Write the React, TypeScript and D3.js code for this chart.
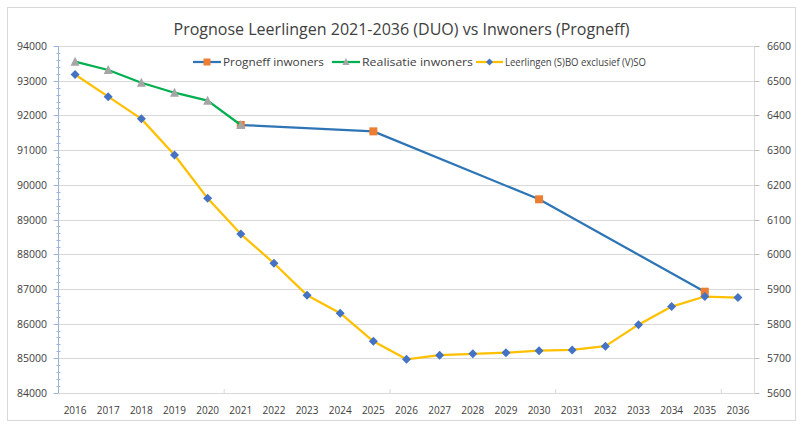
import React from "react";
import * as d3 from "d3";

const years = ["2016","2017","2018","2019","2020","2021","2022","2023","2024","2025","2026","2027","2028","2029","2030","2031","2032","2033","2034","2035","2036"];
const realisatieYears = ["2016","2017","2018","2019","2020","2021"];
const realisatie = [93548, 93308, 92942, 92654, 92424, 91723];
const progneffYears = ["2021","2025","2030","2035"];
const progneff = [91723, 91540, 89582, 86919];
const leerlingen = [6518, 6454, 6390, 6286, 6161, 6058, 5974, 5882, 5830, 5749, 5697, 5709, 5713, 5716, 5722, 5724, 5735, 5797, 5849, 5878, 5875];
const leftTicks = [84000, 85000, 86000, 87000, 88000, 89000, 90000, 91000, 92000, 93000, 94000];
const rightTicks = [5600, 5700, 5800, 5900, 6000, 6100, 6200, 6300, 6400, 6500, 6600];
const title = "Prognose Leerlingen 2021-2036 (DUO) vs Inwoners (Progneff)";
const legendLabels = ["Progneff inwoners", "Realisatie inwoners", "Leerlingen (S)BO exclusief (V)SO"];

const W = 803, H = 428;
const L = 58.5, R = 754.5, T = 46, B = 393;
const FONT = "'Open Sans', 'Noto Sans', sans-serif";
const BLUE = "#2e75b6", ORANGE = "#ed7d31", GREEN = "#00b050", GREY = "#a5a5a5", YELLOW = "#ffc000", DBLUE = "#4472c4";

export default function App() {
  const x = d3.scalePoint<string>().domain(years).range([L, R]).padding(0.5);
  const step = x.step();
  const yL = d3.scaleLinear().domain([84000, 94000]).range([B, T]);
  const yR = d3.scaleLinear().domain([5600, 6600]).range([B, T]);

  const lineL = d3.line<[string, number]>().x(d => x(d[0])!).y(d => yL(d[1]));
  const lineR = d3.line<[string, number]>().x(d => x(d[0])!).y(d => yR(d[1]));

  const progData: [string, number][] = progneffYears.map((y, i) => [y, progneff[i]]);
  const realData: [string, number][] = realisatieYears.map((y, i) => [y, realisatie[i]]);
  const leerData: [string, number][] = years.map((y, i) => [y, leerlingen[i]]);

  const minorTicks = d3.range(84000, 94001, 200).filter(v => v % 1000 !== 0);
  const xTickBounds = [5, 10, 15, 20].map(i => L + i * step);

  const square = (cx: number, cy: number, k: string, s = 8) => (
    <rect key={k} x={cx - s / 2} y={cy - s / 2} width={s} height={s} fill={ORANGE} />
  );
  const triangle = (cx: number, cy: number, k: string, s = 9) => (
    <path key={k} d={`M${cx},${cy - s / 2 - 0.5}L${cx + s / 2},${cy + s / 2 - 0.5}L${cx - s / 2},${cy + s / 2 - 0.5}Z`} fill={GREY} />
  );
  const diamond = (cx: number, cy: number, k: string, s = 4.5) => (
    <path key={k} d={`M${cx},${cy - s}L${cx + s},${cy}L${cx},${cy + s}L${cx - s},${cy}Z`} fill={DBLUE} />
  );

  const legendItems = [
    { x1: 193, x2: 221, color: BLUE, marker: "sq", label: legendLabels[0], tl: 101 },
    { x1: 332, x2: 360, color: GREEN, marker: "tri", label: legendLabels[1], tl: 111 },
    { x1: 476, x2: 503, color: YELLOW, marker: "dia", label: legendLabels[2], tl: 141 },
  ];
  const ly = 62;

  return (
    <svg width={W} height={H} style={{ position: "absolute", left: 0, top: 0, background: "#fff" }} fontFamily={FONT}>
      <rect x={7.5} y={7.5} width={788} height={413} fill="#fff" stroke="#d9d9d9" strokeWidth={1} />
      <text x={W / 2} y={35} textAnchor="middle" fontSize={17} fill="#404040" textLength={456} lengthAdjust="spacingAndGlyphs">{title}</text>

      {/* gridlines */}
      {leftTicks.map(v => (
        <line key={"g" + v} x1={L} x2={R} y1={Math.round(yL(v)) + 0.5} y2={Math.round(yL(v)) + 0.5} stroke="#d9d9d9" strokeWidth={1} />
      ))}

      {/* left axis */}
      <line x1={L} x2={L} y1={T} y2={B} stroke="#9db4dd" strokeWidth={1} />
      {leftTicks.map(v => (
        <line key={"lt" + v} x1={L - 5} x2={L} y1={Math.round(yL(v)) + 0.5} y2={Math.round(yL(v)) + 0.5} stroke="#9db4dd" />
      ))}
      {minorTicks.map(v => (
        <line key={"mt" + v} x1={L - 2} x2={L + 2} y1={Math.round(yL(v)) + 0.5} y2={Math.round(yL(v)) + 0.5} stroke="#9db4dd" />
      ))}
      {leftTicks.map(v => (
        <text key={"ll" + v} x={47} y={yL(v) + 4} textAnchor="end" fontSize={10.5} fill="#404040">{v}</text>
      ))}

      {/* right axis */}
      <line x1={R} x2={R} y1={T} y2={B} stroke="#d9d9d9" strokeWidth={1} />
      {rightTicks.map(v => (
        <line key={"rt" + v} x1={R} x2={R + 5} y1={Math.round(yR(v)) + 0.5} y2={Math.round(yR(v)) + 0.5} stroke="#bfbfbf" />
      ))}
      {rightTicks.map(v => (
        <text key={"rl" + v} x={767} y={yR(v) + 4} textAnchor="start" fontSize={10.5} fill="#404040">{v}</text>
      ))}

      {/* x axis */}
      <line x1={L} x2={R} y1={B + 0.5} y2={B + 0.5} stroke="#d9d9d9" />
      {xTickBounds.map((bx, i) => (
        <line key={"xt" + i} x1={bx} x2={bx} y1={B - 4} y2={B} stroke="#d9d9d9" />
      ))}
      {years.map(y => (
        <text key={"xl" + y} x={x(y)!} y={414} textAnchor="middle" fontSize={10} fill="#404040">{y}</text>
      ))}

      {/* series */}
      <path d={lineL(progData)!} fill="none" stroke={BLUE} strokeWidth={2.25} strokeLinejoin="round" />
      {progData.map((d, i) => square(x(d[0])!, yL(d[1]), "sq" + i))}
      <path d={lineL(realData)!} fill="none" stroke={GREEN} strokeWidth={2.25} strokeLinejoin="round" />
      {realData.map((d, i) => triangle(x(d[0])!, yL(d[1]), "tr" + i))}
      <path d={lineR(leerData)!} fill="none" stroke={YELLOW} strokeWidth={2.25} strokeLinejoin="round" />
      {leerData.map((d, i) => diamond(x(d[0])!, yR(d[1]), "di" + i))}

      {/* legend */}
      {legendItems.map((it, i) => {
        const cx = (it.x1 + it.x2) / 2;
        return (
          <g key={"lg" + i}>
            <line x1={it.x1} x2={it.x2} y1={ly} y2={ly} stroke={it.color} strokeWidth={2.25} />
            {it.marker === "sq" ? square(cx, ly, "lsq", 7) : it.marker === "tri" ? triangle(cx, ly, "ltr", 7) : diamond(cx, ly, "ldi", 3.5)}
            <text x={it.x2 + 2} y={ly + 3.5} fontSize={10} fill="#404040" textLength={it.tl} lengthAdjust="spacingAndGlyphs">{it.label}</text>
          </g>
        );
      })}
    </svg>
  );
}
